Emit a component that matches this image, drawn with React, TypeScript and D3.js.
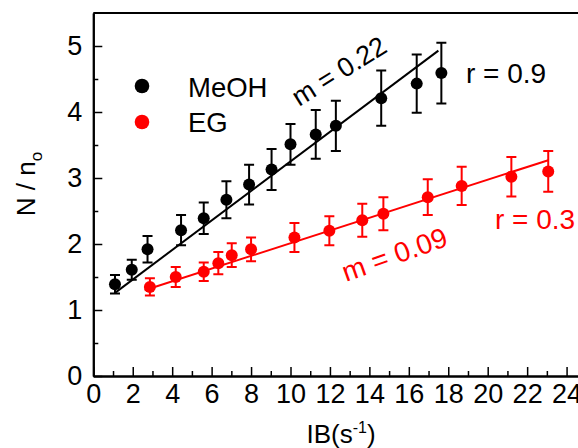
import React, { useEffect, useRef } from "react";
import * as d3 from "d3";

// MeOH series (black)
const meohX = [1.1, 1.95, 2.75, 4.45, 5.6, 6.75, 7.9, 9.04, 10.0, 11.28, 12.3, 14.6, 16.4, 17.65];
const meohY = [1.39, 1.61, 1.92, 2.21, 2.39, 2.67, 2.9, 3.13, 3.51, 3.66, 3.79, 4.21, 4.43, 4.59];
const meohErr = [0.14, 0.15, 0.2, 0.23, 0.24, 0.28, 0.3, 0.31, 0.31, 0.37, 0.38, 0.42, 0.44, 0.46];
const meohFit = [[1.1, 1.26], [17.5, 4.93]];

// EG series (red)
const egX = [2.87, 4.18, 5.6, 6.34, 7.02, 8.0, 10.2, 11.97, 13.64, 14.71, 16.96, 18.68, 21.2, 23.07];
const egY = [1.35, 1.5, 1.58, 1.71, 1.83, 1.92, 2.1, 2.2, 2.36, 2.46, 2.71, 2.88, 3.02, 3.1];
const egErr = [0.13, 0.15, 0.14, 0.17, 0.18, 0.18, 0.22, 0.22, 0.25, 0.25, 0.27, 0.29, 0.3, 0.31];
const egFit = [[2.6, 1.3], [23.07, 3.27]];

const xTicks = [0, 2, 4, 6, 8, 10, 12, 14, 16, 18, 20, 22, 24];
const xMinor = [1, 3, 5, 7, 9, 11, 13, 15, 17, 19, 21, 23];
const yTicks = [0, 1, 2, 3, 4, 5];
const yMinor = [0.5, 1.5, 2.5, 3.5, 4.5];

const W = 578;
const H = 448;
const margin = { left: 93.3, top: 13, bottom: 72 };
const font = "'Liberation Sans', Arial, sans-serif";

const App = () => {
  const ref = useRef<SVGSVGElement>(null);

  useEffect(() => {
    const svg = d3.select(ref.current);
    svg.selectAll("*").remove();

    const x = d3.scaleLinear().domain([0, 25]).range([margin.left, margin.left + 25 * 19.72]);
    const y = d3.scaleLinear().domain([0, 5.5]).range([H - margin.bottom, margin.top]);

    const g = svg.append("g").style("font-family", font);

    // axes with inward ticks
    const xAxis = g
      .append("g")
      .attr("transform", `translate(0,${y(0)})`)
      .call(d3.axisBottom(x).tickValues(xTicks).tickSize(-9).tickSizeOuter(0).tickPadding(8));
    g.append("g")
      .attr("transform", `translate(0,${y(0)})`)
      .call(d3.axisBottom(x).tickValues(xMinor).tickSize(-5).tickSizeOuter(0).tickFormat(() => ""));
    const yAxis = g
      .append("g")
      .attr("transform", `translate(${x(0)},0)`)
      .call(
        d3.axisLeft(y).tickValues(yTicks).tickFormat(d3.format("d")).tickSize(-9).tickSizeOuter(0).tickPadding(11)
      );
    g.append("g")
      .attr("transform", `translate(${x(0)},0)`)
      .call(d3.axisLeft(y).tickValues(yMinor).tickSize(-5).tickSizeOuter(0).tickFormat(() => ""));

    g.selectAll(".domain").attr("stroke", "#000").attr("stroke-width", 2);
    g.selectAll(".tick line").attr("stroke", "#000").attr("stroke-width", 1.5);
    [xAxis, yAxis].forEach(a =>
      a.selectAll("text").attr("font-size", 27).attr("font-family", font).attr("fill", "#000")
    );

    // top frame
    g.append("path")
      .attr("d", `M${x(0)},${y(5.5)}H${x(25)}`)
      .attr("fill", "none")
      .attr("stroke", "#000")
      .attr("stroke-width", 2);

    const line = d3.line<number[]>().x(d => x(d[0])).y(d => y(d[1]));

    const drawSeries = (xs: number[], ys: number[], es: number[], fit: number[][], color: string) => {
      const s = g.append("g");
      s.append("path")
        .attr("d", line(fit))
        .attr("fill", "none")
        .attr("stroke", color)
        .attr("stroke-width", 2);
      xs.forEach((xv, i) => {
        const cx = x(xv);
        const y0 = y(ys[i] - es[i]);
        const y1 = y(ys[i] + es[i]);
        s.append("path")
          .attr("d", `M${cx},${y0}V${y1}M${cx - 5},${y0}H${cx + 5}M${cx - 5},${y1}H${cx + 5}`)
          .attr("fill", "none")
          .attr("stroke", color)
          .attr("stroke-width", 2);
        s.append("circle").attr("cx", cx).attr("cy", y(ys[i])).attr("r", 6).attr("fill", color);
      });
    };

    drawSeries(meohX, meohY, meohErr, meohFit, "#000");
    drawSeries(egX, egY, egErr, egFit, "#ff0000");

    // legend
    const legend = [
      { label: "MeOH", color: "#000", cy: 86, ty: 97 },
      { label: "EG", color: "#ff0000", cy: 122, ty: 132 }
    ];
    legend.forEach(l => {
      g.append("circle").attr("cx", 142).attr("cy", l.cy).attr("r", 7.3).attr("fill", l.color);
      g.append("text")
        .attr("x", 188)
        .attr("y", l.ty)
        .attr("font-size", 27.5)
        .attr("fill", "#000")
        .text(l.label);
    });

    // annotations
    const note = (tx: number, ty: number, angle: number, text: string, color: string, size: number) =>
      g.append("text")
        .attr("transform", `translate(${tx},${ty}) rotate(${angle})`)
        .attr("font-size", size)
        .attr("fill", color)
        .text(text);
    note(299, 107, -32, "m = 0.22", "#000", 27);
    note(466, 83, 0, "r = 0.9", "#000", 28);
    note(346, 282, -19.5, "m = 0.09", "#ff0000", 28);
    note(495, 229, 0, "r = 0.3", "#ff0000", 28);

    // axis titles
    const yt = g.append("text")
      .attr("transform", `translate(35,184) rotate(-90)`)
      .attr("text-anchor", "middle")
      .attr("font-size", 26)
      .attr("fill", "#000");
    yt.append("tspan").text("N / n");
    yt.append("tspan").attr("dy", 7).attr("font-size", 17).text("o");

    const xt = g.append("text")
      .attr("x", 341)
      .attr("y", 443)
      .attr("text-anchor", "middle")
      .attr("font-size", 26)
      .attr("fill", "#000");
    xt.append("tspan").text("IB(s");
    xt.append("tspan").attr("dy", -10).attr("font-size", 16).text("-1");
    xt.append("tspan").attr("dy", 10).text(")");
  }, []);

  return (
    <svg
      ref={ref}
      width={W}
      height={H}
      style={{ position: "absolute", left: 0, top: 0, background: "#fff" }}
    />
  );
};

export default App;
